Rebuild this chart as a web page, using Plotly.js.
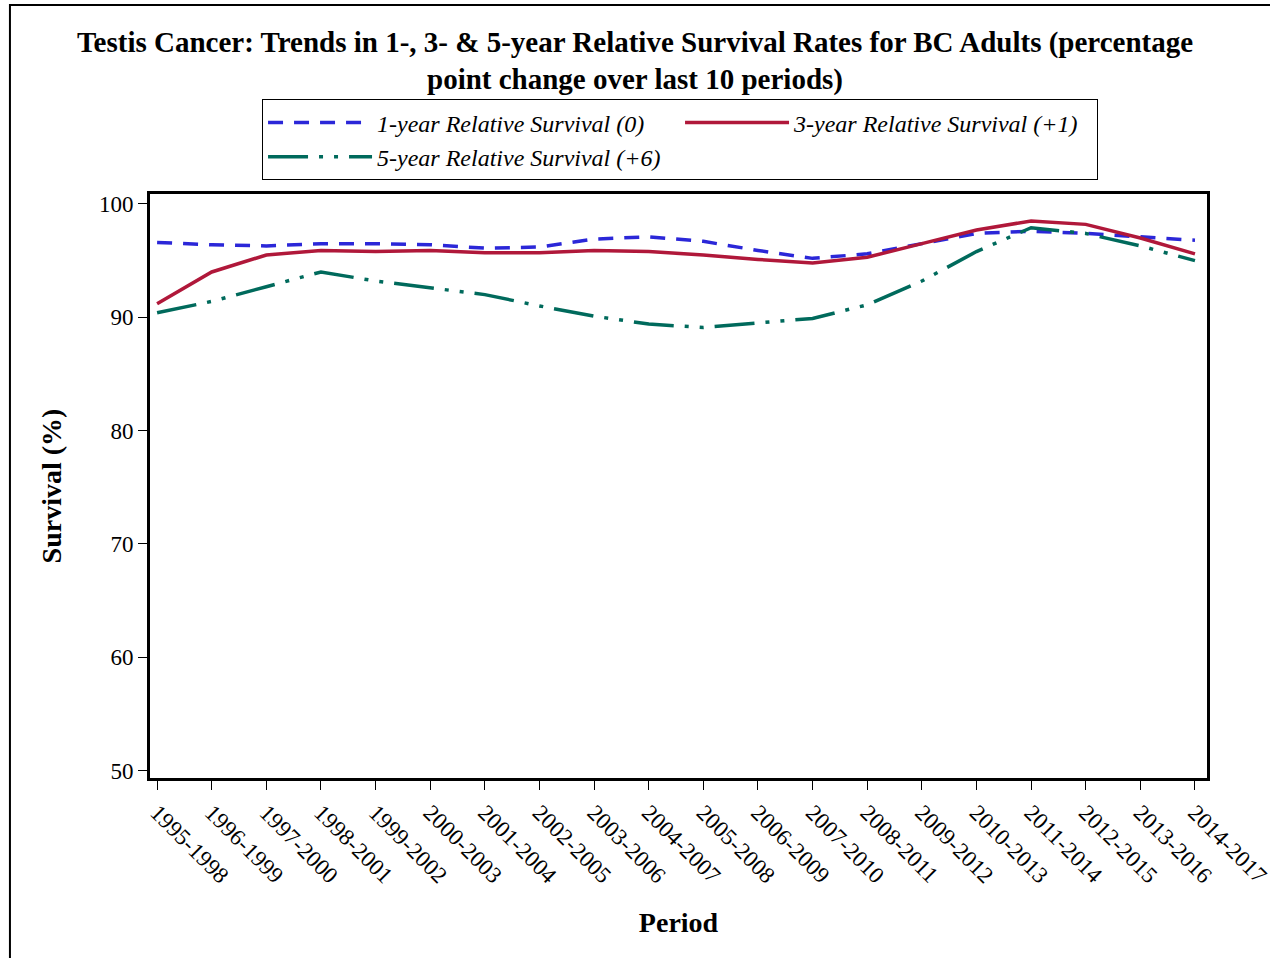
<!DOCTYPE html>
<html>
<head>
<meta charset="utf-8">
<script src="https://cdn.plot.ly/plotly-3.0.1.min.js"></script>
<style>
  body { margin: 0; background: #fff; }
  #graph { width: 1270px; height: 958px; }
</style>
</head>
<body>
<div id="graph"></div>
<script>
// survival by period
var periods = ['1995-1998','1996-1999','1997-2000','1998-2001','1999-2002','2000-2003',
  '2001-2004','2002-2005','2003-2006','2004-2007','2005-2008','2006-2009','2007-2010',
  '2008-2011','2009-2012','2010-2013','2011-2014','2012-2015','2013-2016','2014-2017'];

var oneYear   = [96.6, 96.4, 96.3, 96.5, 96.5, 96.4, 96.1, 96.2, 96.9, 97.1,
                 96.7, 95.9, 95.2, 95.6, 96.5, 97.4, 97.6, 97.4, 97.1, 96.8];
var threeYear = [91.2, 94.0, 95.5, 95.9, 95.8, 95.9, 95.7, 95.7, 95.9, 95.8,
                 95.5, 95.1, 94.8, 95.3, 96.5, 97.7, 98.5, 98.2, 97.0, 95.6];
var fiveYear  = [90.4, 91.4, 92.7, 94.0, 93.2, 92.6, 92.0, 91.0, 90.1, 89.4,
                 89.1, 89.5, 89.9, 91.1, 93.2, 95.8, 97.9, 97.4, 96.3, 95.0];

var yTicks = [50, 60, 70, 80, 90, 100];

var serif = 'Liberation Serif, Times New Roman, serif';

var traces = [
  {
    x: periods, y: oneYear, type: 'scatter', mode: 'lines',
    name: '1-year Relative Survival (0)',
    line: {color: '#2B27D8', width: 3.5, dash: '15px,11px'}
  },
  {
    x: periods, y: threeYear, type: 'scatter', mode: 'lines',
    name: '3-year Relative Survival (+1)',
    line: {color: '#B0183A', width: 3.5}
  },
  {
    x: periods, y: fiveYear, type: 'scatter', mode: 'lines',
    name: '5-year Relative Survival (+6)',
    line: {color: '#006A5C', width: 3.5, dash: '40px,11px,4px,11px,4px,11px'}
  }
];

var layout = {
  width: 1270,
  height: 958,
  margin: {l: 150, r: 63, t: 194, b: 180, autoexpand: false},
  paper_bgcolor: '#fff',
  plot_bgcolor: '#fff',
  font: {family: serif, color: '#000', size: 23},
  showlegend: true,
  title: {
    text: '<b>Testis Cancer: Trends in 1-, 3- & 5-year Relative Survival Rates for BC Adults (percentage<br>point change over last 10 periods)</b>',
    font: {family: serif, size: 29, color: '#000'},
    xref: 'container', x: 0.5, xanchor: 'center',
    yref: 'container', y: 0.946, yanchor: 'top'
  },
  legend: {
    orientation: 'h',
    x: 0.106, xanchor: 'left',
    y: 1.162, yanchor: 'top',
    bgcolor: '#fff',
    bordercolor: '#000',
    borderwidth: 1,
    entrywidth: 298,
    itemwidth: 104,
    font: {family: serif, size: 24, style: 'italic', color: '#000'},
    traceorder: 'normal'
  },
  xaxis: {
    type: 'category',
    range: [-0.13, 19.22],
    tickangle: 45,
    ticks: 'outside', ticklen: 9, tickwidth: 1, tickcolor: '#000',
    showline: true, linecolor: '#000', linewidth: 3, mirror: true,
    showgrid: false, zeroline: false,
    tickfont: {family: serif, size: 23},
    title: {text: '<b>Period</b>', font: {family: serif, size: 28}, standoff: 25}
  },
  yaxis: {
    range: [49.34, 100.88],
    tickvals: yTicks,
    ticks: 'outside', ticklen: 9, tickwidth: 1, tickcolor: '#000',
    showline: true, linecolor: '#000', linewidth: 3, mirror: true,
    showgrid: false, zeroline: false,
    tickfont: {family: serif, size: 23},
    title: {text: '<b>Survival (%)</b>', font: {family: serif, size: 28}, standoff: 30}
  },
  shapes: [
    {
      type: 'path', xref: 'paper', yref: 'paper',
      path: 'M -0.1325,-0.5 L -0.1325,1.3236 L 1.2,1.3236',
      line: {color: '#000', width: 2}
    }
  ]
};

Plotly.newPlot('graph', traces, layout, {displayModeBar: false, staticPlot: true});
</script>
</body>
</html>
